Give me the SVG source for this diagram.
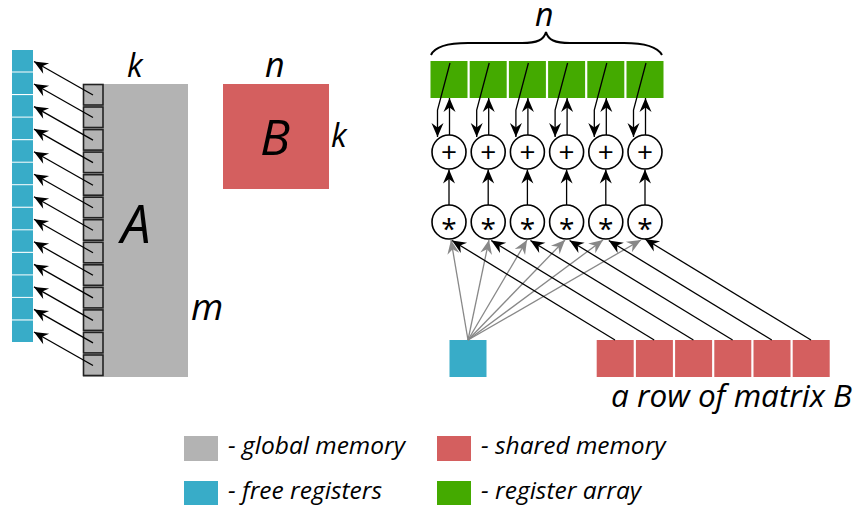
<svg xmlns="http://www.w3.org/2000/svg" width="858" height="509" viewBox="0 0 858 509">
<defs>
<style>
.t{font-family:"Open Sans","Noto Sans","DejaVu Sans",sans-serif;font-style:italic;fill:#000}
.op{font-family:"Open Sans","DejaVu Sans",sans-serif;font-size:28px;text-anchor:middle;fill:#000}
.blue{fill:#38acc8}
.gray{fill:#b3b3b3}
.red{fill:#d45f5f}
.green{fill:#44aa00}
.sq{fill:#b3b3b3;stroke:#222;stroke-width:1.6}
.c{fill:#fff;stroke:#000;stroke-width:1.6}
.k{fill:none;stroke:#000;stroke-width:1.3;marker-end:url(#ak)}
.g{fill:none;stroke:#888;stroke-width:1.3;marker-end:url(#ag)}
</style>
<marker id="ak" viewBox="-15 -7 16 14" refX="0" refY="0" markerWidth="16" markerHeight="14" markerUnits="userSpaceOnUse" orient="auto">
<path d="M0,0 L-14,-6 L-9.5,0 L-14,6 Z" fill="#000"/>
</marker>
<marker id="ag" viewBox="-15 -7 16 14" refX="0" refY="0" markerWidth="16" markerHeight="14" markerUnits="userSpaceOnUse" orient="auto">
<path d="M0,0 L-14,-6 L-9.5,0 L-14,6 Z" fill="#888"/>
</marker>
</defs>
<rect width="858" height="509" fill="#fff"/>

<g id="free-registers-column">
<rect class="blue" x="12" y="50" width="21" height="21.5"/>
<rect class="blue" x="12" y="72.5" width="21" height="21.5"/>
<rect class="blue" x="12" y="95.1" width="21" height="21.5"/>
<rect class="blue" x="12" y="117.6" width="21" height="21.5"/>
<rect class="blue" x="12" y="140.2" width="21" height="21.5"/>
<rect class="blue" x="12" y="162.7" width="21" height="21.5"/>
<rect class="blue" x="12" y="185.2" width="21" height="21.5"/>
<rect class="blue" x="12" y="207.8" width="21" height="21.5"/>
<rect class="blue" x="12" y="230.3" width="21" height="21.5"/>
<rect class="blue" x="12" y="252.9" width="21" height="21.5"/>
<rect class="blue" x="12" y="275.4" width="21" height="21.5"/>
<rect class="blue" x="12" y="297.9" width="21" height="21.5"/>
<rect class="blue" x="12" y="320.5" width="21" height="21.5"/>
</g>

<g id="matrix-A">
<rect class="gray" x="83" y="84" width="105" height="293"/>
<rect class="sq" x="83.5" y="84.5" width="19.5" height="20.5"/>
<rect class="sq" x="83.5" y="107" width="19.5" height="20.5"/>
<rect class="sq" x="83.5" y="129.6" width="19.5" height="20.5"/>
<rect class="sq" x="83.5" y="152.1" width="19.5" height="20.5"/>
<rect class="sq" x="83.5" y="174.7" width="19.5" height="20.5"/>
<rect class="sq" x="83.5" y="197.2" width="19.5" height="20.5"/>
<rect class="sq" x="83.5" y="219.7" width="19.5" height="20.5"/>
<rect class="sq" x="83.5" y="242.3" width="19.5" height="20.5"/>
<rect class="sq" x="83.5" y="264.8" width="19.5" height="20.5"/>
<rect class="sq" x="83.5" y="287.4" width="19.5" height="20.5"/>
<rect class="sq" x="83.5" y="309.9" width="19.5" height="20.5"/>
<rect class="sq" x="83.5" y="332.4" width="19.5" height="20.5"/>
<rect class="sq" x="83.5" y="355" width="19.5" height="20.5"/>
<text class="t" x="127" y="77" font-size="32">k</text>
<text class="t" x="121" y="243" font-size="53">A</text>
<text class="t" x="191" y="320" font-size="37">m</text>
</g>

<g id="matrix-B">
<rect class="red" x="223" y="84" width="106" height="105"/>
<text class="t" x="260" y="155" font-size="50">B</text>
<text class="t" x="265" y="77" font-size="34">n</text>
<text class="t" x="331" y="147" font-size="32">k</text>
</g>

<g id="register-array">
<rect class="green" x="430.5" y="61" width="37" height="37"/>
<rect class="green" x="469.7" y="61" width="37" height="37"/>
<rect class="green" x="508.9" y="61" width="37" height="37"/>
<rect class="green" x="548.1" y="61" width="37" height="37"/>
<rect class="green" x="587.3" y="61" width="37" height="37"/>
<rect class="green" x="626.5" y="61" width="37" height="37"/>
<path d="M431,55 C435,46 448,43 468,43 L522,43 C537,43 544,40 546,32 C548,40 555,43 570,43 L624,43 C644,43 657,46 662,55" fill="none" stroke="#000" stroke-width="2"/>
<text class="t" x="535" y="26" font-size="32">n</text>
</g>

<g id="adders">
<circle class="c" cx="449" cy="152" r="17"/><text class="op" x="449" y="162">+</text>
<circle class="c" cx="488.2" cy="152" r="17"/><text class="op" x="488.2" y="162">+</text>
<circle class="c" cx="527.4" cy="152" r="17"/><text class="op" x="527.4" y="162">+</text>
<circle class="c" cx="566.6" cy="152" r="17"/><text class="op" x="566.6" y="162">+</text>
<circle class="c" cx="605.8" cy="152" r="17"/><text class="op" x="605.8" y="162">+</text>
<circle class="c" cx="645" cy="152" r="17"/><text class="op" x="645" y="162">+</text>
</g>

<g id="multipliers">
<circle class="c" cx="449" cy="222" r="17"/><text class="op" x="449" y="239">*</text>
<circle class="c" cx="488.2" cy="222" r="17"/><text class="op" x="488.2" y="239">*</text>
<circle class="c" cx="527.4" cy="222" r="17"/><text class="op" x="527.4" y="239">*</text>
<circle class="c" cx="566.6" cy="222" r="17"/><text class="op" x="566.6" y="239">*</text>
<circle class="c" cx="605.8" cy="222" r="17"/><text class="op" x="605.8" y="239">*</text>
<circle class="c" cx="645" cy="222" r="17"/><text class="op" x="645" y="239">*</text>
</g>

<g id="free-register">
<rect class="blue" x="449.5" y="340" width="37" height="37"/>
</g>

<g id="row-of-B">
<rect class="red" x="596.7" y="340" width="37" height="37"/>
<rect class="red" x="635.9" y="340" width="37" height="37"/>
<rect class="red" x="675.1" y="340" width="37" height="37"/>
<rect class="red" x="714.3" y="340" width="37" height="37"/>
<rect class="red" x="753.5" y="340" width="37" height="37"/>
<rect class="red" x="792.7" y="340" width="37" height="37"/>
<text class="t" x="611" y="407" font-size="31.5">a row of matrix B</text>
</g>

<g id="connectors">
<path class="k" d="M93,95 L34,61.5"/>
<path class="k" d="M93,117.5 L34,84"/>
<path class="k" d="M93,140.1 L34,106.6"/>
<path class="k" d="M93,162.6 L34,129.1"/>
<path class="k" d="M93,185.2 L34,151.7"/>
<path class="k" d="M93,207.7 L34,174.2"/>
<path class="k" d="M93,230.2 L34,196.7"/>
<path class="k" d="M93,252.8 L34,219.3"/>
<path class="k" d="M93,275.3 L34,241.8"/>
<path class="k" d="M93,297.9 L34,264.4"/>
<path class="k" d="M93,320.4 L34,286.9"/>
<path class="k" d="M93,342.9 L34,309.4"/>
<path class="k" d="M93,365.5 L34,332"/>

<path class="k" d="M450,63 L437.5,110 L437.5,137"/>
<path class="k" d="M489.2,63 L476.7,110 L476.7,137"/>
<path class="k" d="M528.4,63 L515.9,110 L515.9,137"/>
<path class="k" d="M567.6,63 L555.1,110 L555.1,137"/>
<path class="k" d="M606.8,63 L594.3,110 L594.3,137"/>
<path class="k" d="M646,63 L633.5,110 L633.5,137"/>

<path class="k" d="M449.5,135 L449.5,98"/>
<path class="k" d="M488.7,135 L488.7,98"/>
<path class="k" d="M527.9,135 L527.9,98"/>
<path class="k" d="M567.1,135 L567.1,98"/>
<path class="k" d="M606.3,135 L606.3,98"/>
<path class="k" d="M645.5,135 L645.5,98"/>

<path class="k" d="M449,205 L449,169.5"/>
<path class="k" d="M488.2,205 L488.2,169.5"/>
<path class="k" d="M527.4,205 L527.4,169.5"/>
<path class="k" d="M566.6,205 L566.6,169.5"/>
<path class="k" d="M605.8,205 L605.8,169.5"/>
<path class="k" d="M645,205 L645,169.5"/>

<path class="g" d="M468,340 L451,240"/>
<path class="g" d="M468,340 L489,240"/>
<path class="g" d="M468,340 L527,240"/>
<path class="g" d="M468,340 L565,240"/>
<path class="g" d="M468,340 L603,240"/>
<path class="g" d="M468,340 L641,240"/>

<path class="k" d="M615,340 L452,240.5"/>
<path class="k" d="M654.2,340 L491.2,240.5"/>
<path class="k" d="M693.4,340 L530.4,240.5"/>
<path class="k" d="M732.6,340 L569.6,240.5"/>
<path class="k" d="M771.8,340 L608.8,240.5"/>
<path class="k" d="M811,340 L645,239"/>
</g>

<g id="legend">
<rect class="gray" x="184" y="436" width="34" height="25"/>
<text class="t" x="228" y="454" font-size="24.5">- global memory</text>
<rect class="red" x="437" y="436" width="34" height="25"/>
<text class="t" x="481" y="454" font-size="24.5">- shared memory</text>
<rect class="blue" x="184" y="481" width="34" height="24"/>
<text class="t" x="228" y="499" font-size="24.5">- free registers</text>
<rect class="green" x="437" y="481" width="34" height="24"/>
<text class="t" x="481" y="499" font-size="24.5">- register array</text>
</g>
</svg>
